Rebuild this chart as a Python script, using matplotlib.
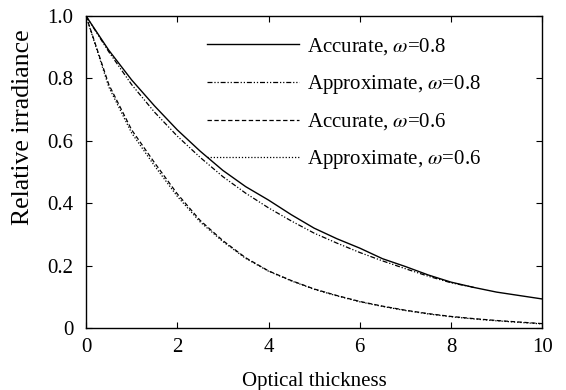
import matplotlib
matplotlib.use('Agg')
import matplotlib.pyplot as plt

plt.rcParams['font.family'] = ['Liberation Serif', 'DejaVu Serif']
plt.rcParams['mathtext.fontset'] = 'stix'

# optical thickness grid
tau = [0, 0.5, 1, 1.5, 2, 2.5, 3, 3.5, 4, 4.5, 5, 5.5, 6, 6.5, 7, 7.5, 8, 8.5, 9, 9.5, 10]

acc_08 = [1.0, 0.89, 0.795, 0.712, 0.635, 0.567, 0.505, 0.453, 0.41, 0.363, 0.32,
          0.286, 0.256, 0.222, 0.197, 0.17, 0.147, 0.13, 0.115, 0.104, 0.093]
app_08 = [1.0, 0.885, 0.78, 0.692, 0.615, 0.547, 0.485, 0.432, 0.385, 0.343, 0.304,
          0.272, 0.242, 0.215, 0.19, 0.166, 0.145, 0.13]
acc_06 = [1.0, 0.78, 0.635, 0.53, 0.43, 0.345, 0.28, 0.225, 0.183, 0.152, 0.125,
          0.104, 0.085, 0.07, 0.057, 0.046, 0.037, 0.03, 0.024, 0.019, 0.014]
app_06 = [1.0, 0.772, 0.625, 0.52, 0.422, 0.34, 0.277, 0.223, 0.182, 0.151, 0.124,
          0.103, 0.084, 0.069, 0.056, 0.045, 0.036, 0.029, 0.023, 0.018, 0.013]

labels = [r'Accurate, $\omega$=0.8', r'Approximate, $\omega$=0.8',
          r'Accurate, $\omega$=0.6', r'Approximate, $\omega$=0.6']

xticks = [0, 2, 4, 6, 8, 10]
yticks = [0, 0.2, 0.4, 0.6, 0.8, 1.0]
yticklabels = ['0', '0.2', '0.4', '0.6', '0.8', '1.0']

fig = plt.figure(figsize=(5.66, 3.90), dpi=100)
ax = fig.add_axes([0.152, 0.159, 0.806, 0.800])

ax.plot(tau, acc_08, color='black', lw=1.0, linestyle='-', label=labels[0])
ax.plot(tau[:len(app_08)], app_08, color='black', lw=0.9,
        dashes=(4, 1.5, 1, 1.5, 1, 1.5), label=labels[1])
ax.plot(tau, acc_06, color='black', lw=0.9, dashes=(3.5, 2), label=labels[2])
ax.plot(tau, app_06, color='black', lw=0.9, dashes=(1, 1.5), label=labels[3])

ax.set_xlim(0, 10)
ax.set_ylim(0, 1.0)
ax.set_xticks(xticks)
ax.set_yticks(yticks)
ax.set_yticklabels(yticklabels)
ax.tick_params(direction='in', top=True, right=True, length=4, width=0.8,
               labelsize=15)
ax.tick_params(axis='x', pad=7)
ax.tick_params(axis='y', pad=9)
for s in ax.spines.values():
    s.set_linewidth(1.0)

ax.set_xlabel('Optical thickness', fontsize=15, labelpad=11)
ax.set_ylabel('Relative irradiance', fontsize=18.5)
ax.yaxis.set_label_coords(-0.115, 0.645)

ax.legend(loc='upper left', bbox_to_anchor=(0.265, 0.935), frameon=False,
          fontsize=15, handlelength=4.4, handletextpad=0.4, labelspacing=0.75,
          borderpad=0, borderaxespad=0)

fig.savefig('out.png', dpi=100)
